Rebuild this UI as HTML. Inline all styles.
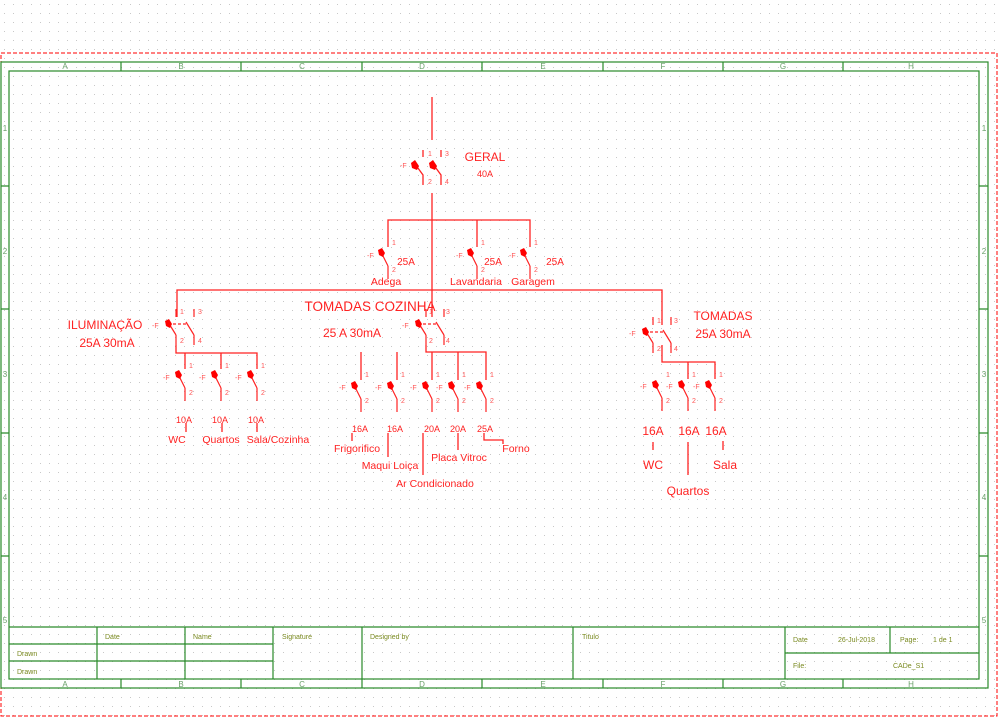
<!DOCTYPE html>
<html><head><meta charset="utf-8"><style>
html,body{margin:0;padding:0;background:#fff;}
svg{display:block;font-family:"Liberation Sans",sans-serif;}
.r{fill:#f22;}
.s{fill:#f55;font-size:7px;}
.g{fill:#7a8a20;font-size:7px;}
.c{fill:#6aa06a;font-size:8px;}
</style></head><body>
<svg width="1000" height="718" viewBox="0 0 1000 718" xmlns="http://www.w3.org/2000/svg">
<defs>
<pattern id="dots" width="9" height="9" patternUnits="userSpaceOnUse"><rect x="4" y="4" width="1" height="1" fill="#c8c8c8"/></pattern>
<g id="b" stroke="#f22" stroke-width="1.2" fill="none">
<line x1="-7" y1="5" x2="0" y2="19"/><line x1="0" y1="19" x2="0" y2="32"/>
<path d="M-10,3 L-6,1 L-3,6 L-5,10 L-9,8 Z" fill="#f00" stroke="none"/>
</g>
<g id="d" stroke="#f22" stroke-width="1.2" fill="none">
<line x1="0" y1="-8" x2="0" y2="0"/><line x1="18" y1="-8" x2="18" y2="0"/>
<line x1="-8" y1="5" x2="0" y2="18"/><line x1="0" y1="18" x2="0" y2="28"/>
<line x1="10" y1="5" x2="18" y2="18"/><line x1="18" y1="18" x2="18" y2="28"/>
<line x1="-8" y1="7" x2="10" y2="7" stroke-dasharray="3,2"/>
<path d="M-11,4 L-7,2 L-4,7 L-6,11 L-10,9 Z" fill="#f00" stroke="none"/>
</g>
</defs>
<rect width="1000" height="718" fill="url(#dots)"/>
<rect x="1" y="53" width="996" height="663" fill="none" stroke="#f00" stroke-width="1" stroke-dasharray="4,2"/>
<g stroke="#2a8a2a" fill="none" stroke-width="1.2">
<rect x="1" y="62" width="987" height="626"/>
<rect x="9" y="71" width="970" height="608"/>
<path d="M121,62V71M241,62V71M362,62V71M482,62V71M603,62V71M723,62V71M843,62V71"/>
<path d="M121,679V688M241,679V688M362,679V688M482,679V688M603,679V688M723,679V688M843,679V688"/>
<path d="M1,186H9M1,309H9M1,433H9M1,556H9M979,186H988M979,309H988M979,433H988M979,556H988"/>
<path d="M9,627H979M9,644H273M9,661H273M97,627V679M185,627V679M273,627V679M362,627V679M573,627V679M785,627V679M785,653H979M890,627V653"/>
</g>
<g class="c" text-anchor="middle">
<text x="65" y="69">A</text><text x="181" y="69">B</text><text x="302" y="69">C</text><text x="422" y="69">D</text><text x="543" y="69">E</text><text x="663" y="69">F</text><text x="783" y="69">G</text><text x="911" y="69">H</text>
<text x="65" y="687">A</text><text x="181" y="687">B</text><text x="302" y="687">C</text><text x="422" y="687">D</text><text x="543" y="687">E</text><text x="663" y="687">F</text><text x="783" y="687">G</text><text x="911" y="687">H</text>
<text x="5" y="131">1</text><text x="5" y="254">2</text><text x="5" y="377">3</text><text x="5" y="500">4</text><text x="5" y="623">5</text>
<text x="984" y="131">1</text><text x="984" y="254">2</text><text x="984" y="377">3</text><text x="984" y="500">4</text><text x="984" y="623">5</text>
</g>
<g class="g">
<text x="105" y="639">Date</text><text x="193" y="639">Name</text><text x="282" y="639">Signature</text><text x="370" y="639">Designed by</text>
<text x="17" y="656">Drawn</text><text x="17" y="674">Drawn</text><text x="582" y="639">Titulo</text>
<text x="793" y="642">Date</text><text x="838" y="642">26-Jul-2018</text><text x="900" y="642">Page:</text><text x="933" y="642">1 de 1</text>
<text x="793" y="668">File:</text><text x="893" y="668">CADe_S1</text>
</g>
<g stroke="#f22" stroke-width="1.3" fill="none">
<path d="M432,97V140M432,193V317"/>
<path d="M388,247V220H530V247M477,220V247"/>
<path d="M177,317V290H662V325"/>
<path d="M176,345V353H257V369M185,353V369M221,353V369"/>
<path d="M426,345V352H486V380M361,352V380M397,352V380M432,352V380M458,352V380"/>
<path d="M662,345V362H715V379M688,362V379"/>
<path d="M423,150V157M441,150V157M415,164L423,175V185M433,164L441,175V185"/>
<path d="M186,423V432M222,423V432M257,423V432"/>
<path d="M352,433V441M388,433V457M423,433V475M458,433V450M484,433V440H503V444"/>
<path d="M653,442V450M688,442V475M723,441V450"/>
</g>
<g fill="#f00"><path d="M411,163L415,160L419,166L417,170L412,168Z"/><path d="M429,163L433,160L437,166L435,170L430,168Z"/></g>
<use href="#d" x="176" y="317"/><use href="#d" x="426" y="317"/><use href="#d" x="653" y="325"/>
<use href="#b" x="388" y="247"/><use href="#b" x="477" y="247"/><use href="#b" x="530" y="247"/>
<use href="#b" x="185" y="369"/><use href="#b" x="221" y="369"/><use href="#b" x="257" y="369"/>
<use href="#b" x="361" y="380"/><use href="#b" x="397" y="380"/><use href="#b" x="432" y="380"/><use href="#b" x="458" y="380"/><use href="#b" x="486" y="380"/>
<use href="#b" x="662" y="379"/><use href="#b" x="688" y="379"/><use href="#b" x="715" y="379"/>
<g class="s">
<text x="428" y="156">1</text><text x="445" y="156">3</text><text x="428" y="184">2</text><text x="445" y="184">4</text><text x="400" y="168">-F</text>
<text x="392" y="245">1</text><text x="392" y="272">2</text><text x="367" y="258">-F</text>
<text x="481" y="245">1</text><text x="481" y="272">2</text><text x="456" y="258">-F</text>
<text x="534" y="245">1</text><text x="534" y="272">2</text><text x="509" y="258">-F</text>
<text x="180" y="314">1</text><text x="198" y="314">3</text><text x="180" y="343">2</text><text x="198" y="343">4</text><text x="152" y="328">-F</text>
<text x="429" y="314">1</text><text x="446" y="314">3</text><text x="429" y="343">2</text><text x="446" y="343">4</text><text x="402" y="328">-F</text>
<text x="657" y="323">1</text><text x="674" y="323">3</text><text x="657" y="351">2</text><text x="674" y="351">4</text><text x="629" y="336">-F</text>
<text x="189" y="368">1</text><text x="189" y="395">2</text><text x="163" y="380">-F</text>
<text x="225" y="368">1</text><text x="225" y="395">2</text><text x="199" y="380">-F</text>
<text x="261" y="368">1</text><text x="261" y="395">2</text><text x="235" y="380">-F</text>
<text x="365" y="377">1</text><text x="365" y="403">2</text><text x="339" y="390">-F</text>
<text x="401" y="377">1</text><text x="401" y="403">2</text><text x="375" y="390">-F</text>
<text x="436" y="377">1</text><text x="436" y="403">2</text><text x="410" y="390">-F</text>
<text x="462" y="377">1</text><text x="462" y="403">2</text><text x="436" y="390">-F</text>
<text x="490" y="377">1</text><text x="490" y="403">2</text><text x="464" y="390">-F</text>
<text x="666" y="377">1</text><text x="666" y="403">2</text><text x="640" y="389">-F</text>
<text x="692" y="377">1</text><text x="692" y="403">2</text><text x="666" y="389">-F</text>
<text x="719" y="377">1</text><text x="719" y="403">2</text><text x="693" y="389">-F</text>
</g>
<g class="r" text-anchor="middle" font-size="12">
<text x="485" y="161">GERAL</text><text x="485" y="177" font-size="9">40A</text>
<text x="406" y="265" font-size="10">25A</text><text x="493" y="265" font-size="10">25A</text><text x="555" y="265" font-size="10">25A</text>
<g font-size="10.5"><text x="386" y="285">Adega</text><text x="476" y="285">Lavandaria</text><text x="533" y="285">Garagem</text></g>
<text x="105" y="329">ILUMINAÇÃO</text><text x="107" y="347">25A 30mA</text>
<text x="370" y="311" font-size="13.5">TOMADAS COZINHA</text><text x="352" y="337">25 A 30mA</text>
<text x="723" y="320">TOMADAS</text><text x="723" y="338">25A 30mA</text>
<g font-size="9"><text x="184" y="423">10A</text><text x="220" y="423">10A</text><text x="256" y="423">10A</text>
<text x="360" y="432">16A</text><text x="395" y="432">16A</text><text x="432" y="432">20A</text><text x="458" y="432">20A</text><text x="485" y="432">25A</text></g>
<g font-size="10.5"><text x="177" y="443">WC</text><text x="221" y="443">Quartos</text><text x="278" y="443">Sala/Cozinha</text>
<text x="357" y="452">Frigorifico</text><text x="390" y="469">Maqui Loiça</text><text x="435" y="487">Ar Condicionado</text><text x="459" y="461">Placa Vitroc</text><text x="516" y="452">Forno</text></g>
<text x="653" y="435">16A</text><text x="689" y="435">16A</text><text x="716" y="435">16A</text>
<text x="653" y="469">WC</text><text x="725" y="469">Sala</text><text x="688" y="495">Quartos</text>
</g>
</svg>
</body></html>
